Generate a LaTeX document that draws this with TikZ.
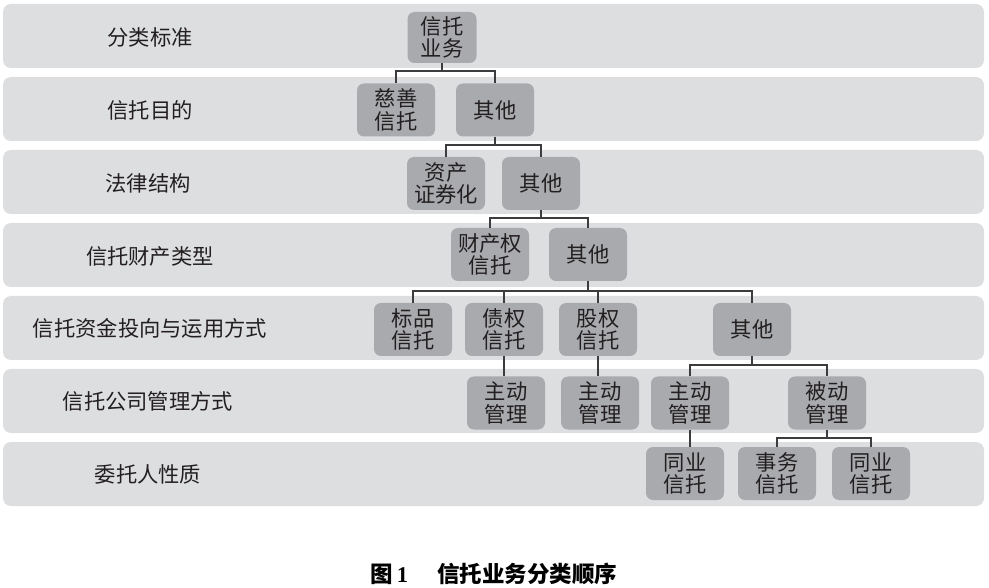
\documentclass[tikz,border=0pt]{standalone}
\usepackage{fontspec}
\setmainfont{Liberation Serif}
\newfontfamily\cjk{Noto Sans CJK SC}
\definecolor{bandgray}{RGB}{221,222,224}
\definecolor{boxgray}{RGB}{168,170,173}
\definecolor{linec}{RGB}{60,60,62}
\definecolor{txt}{RGB}{35,31,32}
\tikzset{
  band/.style={fill=bandgray, rounded corners=8pt, draw=none, minimum width=981pt, minimum height=64pt, inner sep=0pt},
  box/.style={fill=boxgray, rounded corners=7pt, minimum width=78pt, minimum height=53pt, align=center, font=\cjk\fontsize{21.3}{22.5}\selectfont, text=txt, inner sep=0pt},
  lbl/.style={font=\cjk\fontsize{21.3}{24}\selectfont, text=txt, inner sep=0pt},
  conn/.style={draw=linec, line width=1.7pt}
}
\begin{document}
\begin{tikzpicture}[x=1pt,y=-1pt]
\useasboundingbox (0,0) rectangle (989,588);
% bands
\node[band] (b1) at (493.5,36) {};
\node[band] (b2) at (493.5,109) {};
\node[band] (b3) at (493.5,182) {};
\node[band] (b4) at (493.5,255) {};
\node[band] (b5) at (493.5,328) {};
\node[band] (b6) at (493.5,401) {};
\node[band] (b7) at (493.5,474) {};
% labels
\node[lbl] (l1) at (150,37) {分类标准};
\node[lbl] (l2) at (150,110) {信托目的};
\node[lbl] (l3) at (148,183) {法律结构};
\node[lbl] (l4) at (150,256) {信托财产类型};
\node[lbl] (l5) at (150,328) {信托资金投向与运用方式};
\node[lbl] (l6) at (148,401) {信托公司管理方式};
\node[lbl] (l7) at (148,474) {委托人性质};
% boxes
\node[box, minimum width=69pt, minimum height=51pt] (r1) at (442,37.5) {信托\\业务};
\node[box] (cs) at (396,110) {慈善\\信托};
\node[box] (q2) at (495,110) {其他};
\node[box] (zc) at (446,183.5) {资产\\证券化};
\node[box] (q3) at (541,183.5) {其他};
\node[box] (cc) at (490,254.5) {财产权\\信托};
\node[box] (q4) at (588,254.5) {其他};
\node[box] (bp) at (413,329.5) {标品\\信托};
\node[box] (zq) at (504,329.5) {债权\\信托};
\node[box] (gq) at (598,329.5) {股权\\信托};
\node[box] (q5) at (752,329.5) {其他};
\node[box] (zd1) at (506,403) {主动\\管理};
\node[box] (zd2) at (600,403) {主动\\管理};
\node[box] (zd3) at (690,403) {主动\\管理};
\node[box] (bd) at (827,403) {被动\\管理};
\node[box] (ty1) at (685,473.5) {同业\\信托};
\node[box] (sw) at (777,473.5) {事务\\信托};
\node[box] (ty2) at (871,473.5) {同业\\信托};
% bar levels
\coordinate (y1) at (0,71);
\coordinate (y2) at (0,145);
\coordinate (y3) at (0,218);
\coordinate (y4) at (0,291);
\coordinate (y5) at (0,365);
\coordinate (y6) at (0,438);
% connectors
\foreach \c in {cs,q2} \draw[conn] (r1.south) -- (r1.south |- y1) -| (\c.north);
\foreach \c in {zc,q3} \draw[conn] (q2.south) -- (q2.south |- y2) -| (\c.north);
\foreach \c in {cc,q4} \draw[conn] (q3.south) -- (q3.south |- y3) -| (\c.north);
\foreach \c in {bp,zq,gq,q5} \draw[conn] (q4.south) -- (q4.south |- y4) -| (\c.north);
\draw[conn] (zq.south) -- (zd1.north -| zq.south);
\draw[conn] (gq.south) -- (zd2.north -| gq.south);
\foreach \c in {zd3,bd} \draw[conn] (q5.south) -- (q5.south |- y5) -| (\c.north);
\draw[conn] (zd3.south) -- (ty1.north -| zd3.south);
\foreach \c in {sw,ty2} \draw[conn] (bd.south) -- (bd.south |- y6) -| (\c.north);
% caption
\node[text=black, inner sep=0pt] (cap) at (494,574) {\fontsize{22.5}{26}\selectfont\cjk\bfseries 图\,{\rmfamily\bfseries 1}\hspace{1.3em}信托业务分类顺序};
\end{tikzpicture}
\end{document}
